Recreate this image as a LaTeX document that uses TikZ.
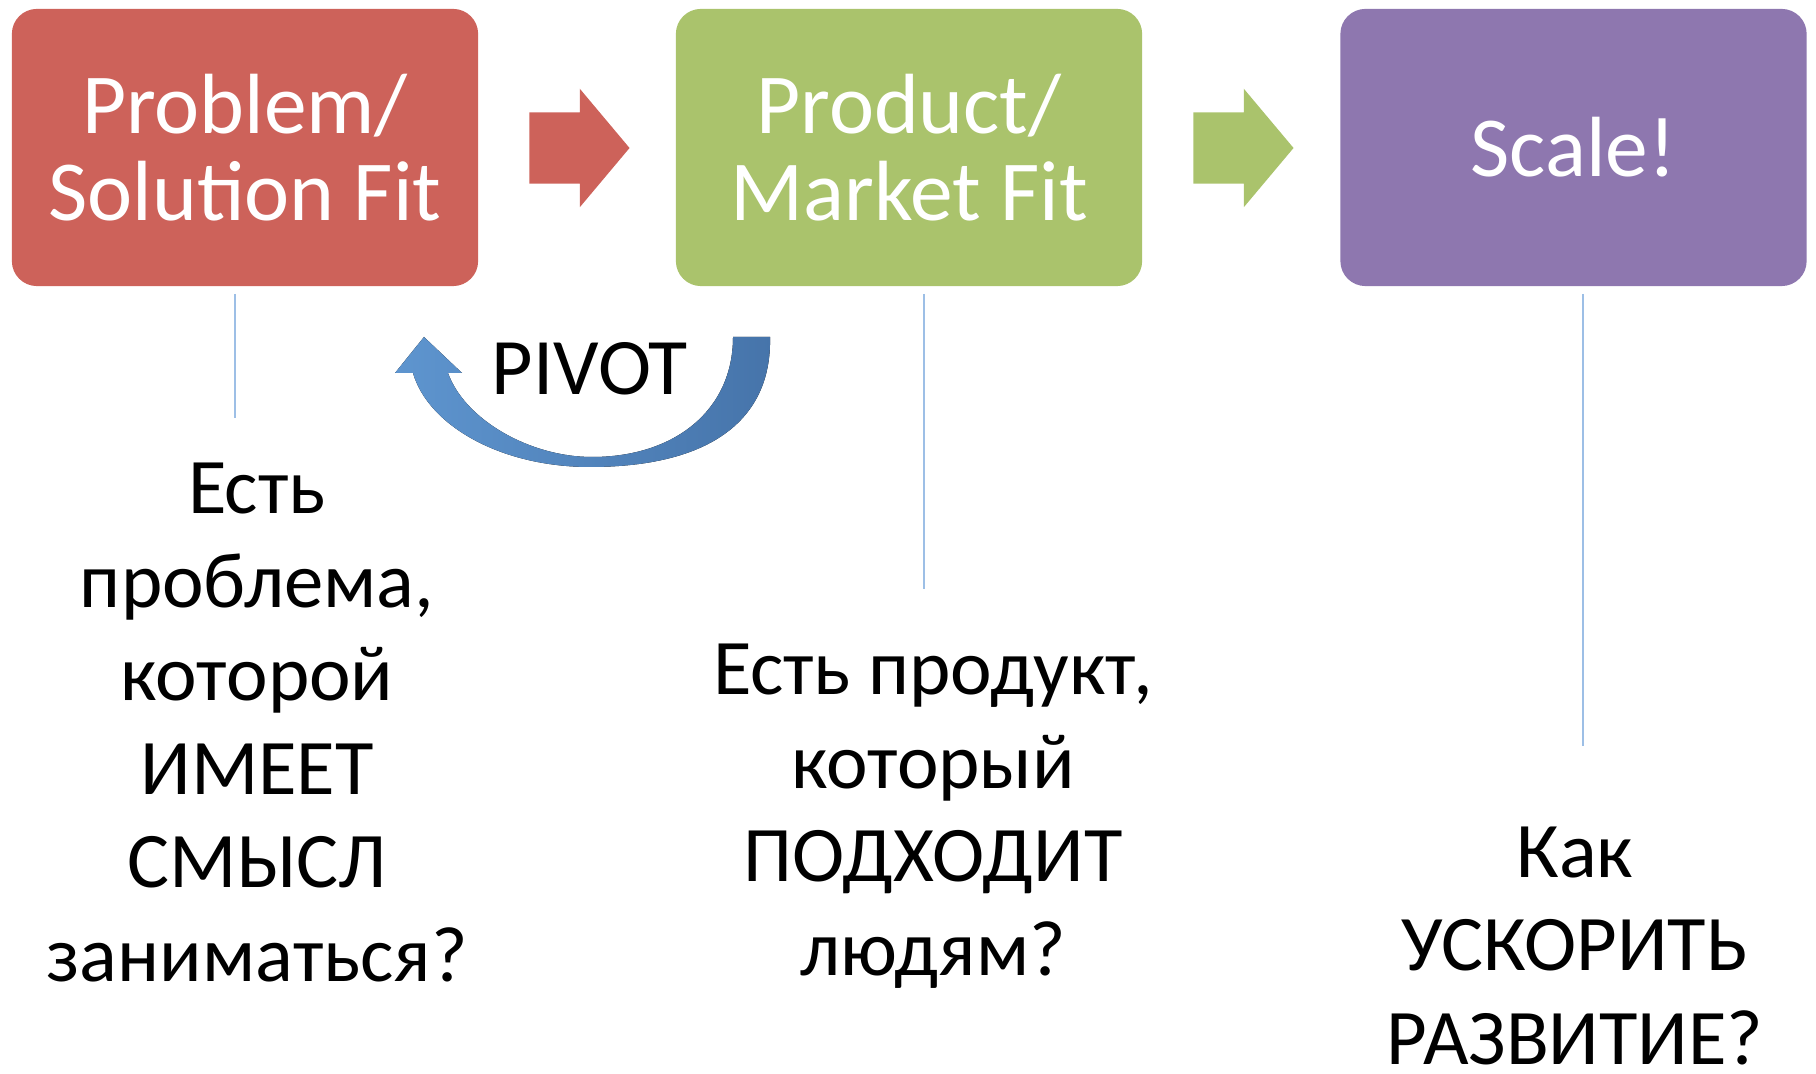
\documentclass[tikz,border=0pt]{standalone}
\usepackage{fontspec}
\setmainfont{Carlito}
\usetikzlibrary{shapes.arrows}
\definecolor{fitred}{HTML}{CD625A}
\definecolor{fitgreen}{HTML}{AAC36C}
\definecolor{fitpurple}{HTML}{8E77AF}
\definecolor{guideblue}{HTML}{9DBFE6}
\definecolor{pivotlight}{HTML}{5E95CF}
\definecolor{pivotdark}{HTML}{4674AA}
\tikzset{
  stage/.style={
    rounded corners=0.25cm, minimum width=4.66cm, minimum height=2.77cm,
    inner sep=0pt, align=center, text=white,
    font=\fontsize{24.3}{24.6}\selectfont
  },
  stagearrow/.style={
    single arrow, minimum height=1cm, inner xsep=0pt, inner ysep=0.35cm,
    single arrow head extend=0.235cm, single arrow tip angle=100
  },
  guide/.style={draw=guideblue, line width=0.6pt},
  note/.style={align=center, anchor=base, font=\fontsize{22.4}{26.56}\selectfont},
}

\begin{document}
\begin{tikzpicture}[x=0.01cm,y=-0.01cm]
\useasboundingbox (0,0) rectangle (1816,1074);
% three stages
\node[stage, fill=fitred] (ps) at (245,147.5) {Problem/\\Solution Fit};
\node[stage, fill=fitgreen] (pm) at (909,147.5) {Product/\\Market Fit};
\node[stage, fill=fitpurple] (sc) at (1573.5,147.5) {Scale!};
\node[stagearrow, fill=fitred] (psarrow) at (564.5,148) {};
\node[stagearrow, fill=fitgreen] (pmarrow) at (1228.5,148) {};
% questions under the stages (anchored at the last line)
\node[note] (psnote) at (257,981) {Есть\\проблема,\\которой\\ИМЕЕТ\\СМЫСЛ\\заниматься?};
\node[note] (pmnote) at (933,975) {Есть продукт,\\который\\ПОДХОДИТ\\людям?};
\node[note] (scnote) at (1575,1064) {Как\\УСКОРИТЬ\\РАЗВИТИЕ?};
\draw[guide] ([xshift=-0.1cm,yshift=-0.07cm]ps.south) -- ++(0,124);
\draw[guide] ([xshift=0.15cm,yshift=-0.07cm]pm.south) -- ++(0,295);
\draw[guide] ([xshift=0.095cm,yshift=-0.07cm]sc.south) -- ++(0,452);
% pivot back to the first stage
\fill[left color=pivotlight, right color=pivotdark]
  (770,337) .. controls (772,420) and (710,467) .. (590,467)
  .. controls (500,467) and (428,425) .. (413,373)
  -- (395,373) -- (424,337) -- (462,373) -- (448,373)
  .. controls (465,420) and (530,457) .. (592,457)
  .. controls (675,457) and (733,410) .. (733,337) -- cycle;
\node[anchor=base, font=\fontsize{22.8}{25}\selectfont] (pivot) at (590,395) {PIVOT};
\end{tikzpicture}
\end{document}
